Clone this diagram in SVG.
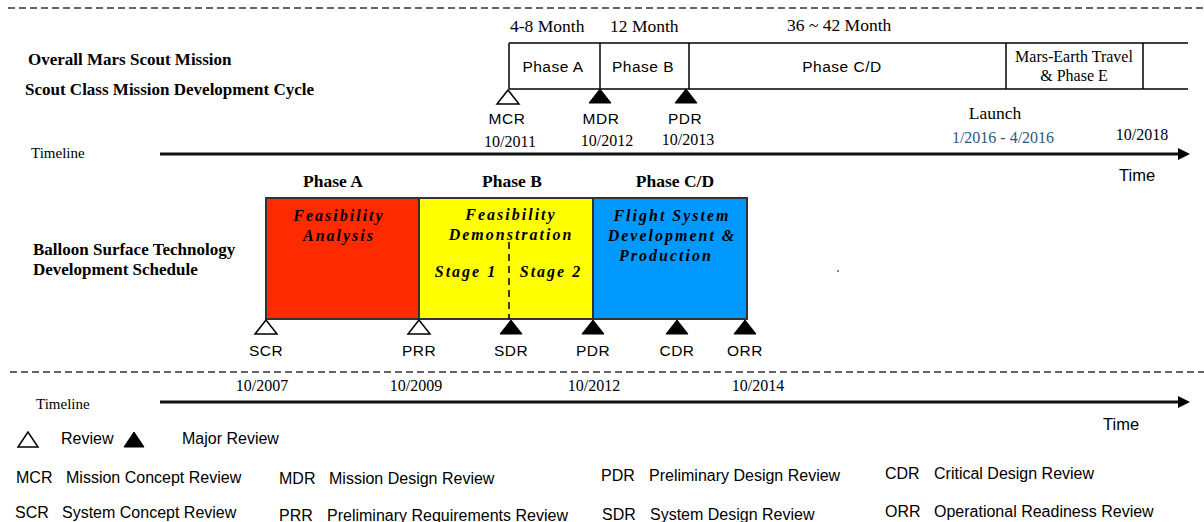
<svg xmlns="http://www.w3.org/2000/svg" width="1204" height="522" viewBox="0 0 1204 522">
<style>
.serif{font-family:"Liberation Serif","Times New Roman",serif;fill:#000}
.sans{font-family:"Liberation Sans",Arial,sans-serif;fill:#000}
.bold{font-weight:bold}
.title{font-size:17px;font-weight:bold}
.lbl{font-size:16px}
.tri{font-size:15.5px;letter-spacing:0.5px}
.date{font-size:16px}
.bi{font-family:"Liberation Serif",serif;font-weight:bold;font-style:italic;font-size:16px;letter-spacing:2px;fill:#000}
.dash{stroke:#333;stroke-width:1.5;stroke-dasharray:7,4;fill:none}
.tl{stroke:#111;stroke-width:3;fill:none}
.box{stroke:#000;stroke-width:1.5;fill:none}
.open{fill:#fff;stroke:#000;stroke-width:1.5}
.filled{fill:#000;stroke:#000;stroke-width:1}
.phase{stroke:#333;stroke-width:2}
</style>
<defs>
<marker id="arr" markerWidth="12" markerHeight="12" refX="2" refY="6" orient="auto" markerUnits="userSpaceOnUse" viewBox="0 0 12 12">
<path d="M0,0 L12,6 L0,12 z" fill="#000"/>
</marker>
</defs>
<rect width="1204" height="522" fill="#fff"/>

<g id="separators">
<line class="dash" x1="8" y1="8" x2="1204" y2="8"/>
<line class="dash" x1="10" y1="372" x2="1204" y2="372"/>
</g>

<g id="connectors">
<line class="tl" x1="160" y1="154" x2="1180" y2="154" marker-end="url(#arr)"/>
<line class="tl" x1="160" y1="402" x2="1180" y2="402" marker-end="url(#arr)"/>
</g>

<g id="top-titles">
<text class="serif title" x="28" y="65">Overall Mars Scout Mission</text>
<text class="serif title" x="25" y="95">Scout Class Mission Development Cycle</text>
<text class="serif" x="31" y="158" font-size="15">Timeline</text>
<text class="sans" x="1119" y="181" font-size="16.5">Time</text>
</g>

<g id="mission-cycle">
<line class="box" x1="509" y1="43" x2="1188" y2="43"/>
<line class="box" x1="509" y1="89" x2="1188" y2="89"/>
<line class="box" x1="509" y1="43" x2="509" y2="89"/>
<line class="box" x1="600" y1="43" x2="600" y2="89"/>
<line class="box" x1="689" y1="43" x2="689" y2="89" stroke-width="2"/>
<line class="box" x1="1006" y1="43" x2="1006" y2="89"/>
<line class="box" x1="1143" y1="43" x2="1143" y2="89"/>
<text class="serif" x="510" y="32" font-size="17.5">4-8 Month</text>
<text class="serif" x="610" y="32" font-size="17.5">12 Month</text>
<text class="serif" x="787" y="31" font-size="17.5">36 ~ 42 Month</text>
<text class="sans" x="553" y="72" font-size="15.5" letter-spacing="0.5" text-anchor="middle">Phase A</text>
<text class="sans" x="643" y="72" font-size="15.5" letter-spacing="0.5" text-anchor="middle">Phase B</text>
<text class="sans" x="842" y="72" font-size="15.5" letter-spacing="0.5" text-anchor="middle">Phase C/D</text>
<text class="serif" x="1074" y="62" font-size="16" text-anchor="middle">Mars-Earth Travel</text>
<text class="serif" x="1074" y="81" font-size="16" text-anchor="middle">&amp; Phase E</text>
</g>

<g id="mcr">
<polygon class="open" points="508,90 497,104 519,104"/>
<text class="sans tri" x="507" y="124" text-anchor="middle">MCR</text>
<text class="serif date" x="510" y="147" text-anchor="middle">10/2011</text>
</g>
<g id="mdr">
<polygon class="filled" points="600,89 589,103 611,103"/>
<text class="sans tri" x="601" y="124" text-anchor="middle">MDR</text>
<text class="serif date" x="607" y="146" text-anchor="middle">10/2012</text>
</g>
<g id="pdr-top">
<polygon class="filled" points="686,89 675,103 697,103"/>
<text class="sans tri" x="685" y="124" text-anchor="middle">PDR</text>
<text class="serif date" x="688" y="145" text-anchor="middle">10/2013</text>
</g>
<g id="launch">
<text class="serif" x="995" y="119" font-size="17.5" text-anchor="middle">Launch</text>
<text class="serif date" x="1003" y="143" text-anchor="middle" style="fill:#2d5a78">1/2016 - 4/2016</text>
<text class="serif date" x="1142" y="140" text-anchor="middle">10/2018</text>
</g>

<g id="balloon-title">
<text class="serif title" x="33" y="255">Balloon Surface Technology</text>
<text class="serif title" x="33" y="275">Development Schedule</text>
</g>

<g id="phase-a">
<rect class="phase" x="266" y="198" width="153" height="121" fill="#ff2a00"/>
<text class="serif bold" x="333" y="187" font-size="17.5" text-anchor="middle">Phase A</text>
<text class="bi" x="339" y="221" text-anchor="middle">Feasibility</text>
<text class="bi" x="339" y="241" text-anchor="middle">Analysis</text>
</g>
<g id="phase-b">
<rect class="phase" x="419" y="198" width="174" height="121" fill="#ffff00"/>
<line x1="509" y1="242" x2="509" y2="319" stroke="#000" stroke-width="1.5" stroke-dasharray="7,5"/>
<text class="serif bold" x="512" y="187" font-size="17.5" text-anchor="middle">Phase B</text>
<text class="bi" x="511" y="220" text-anchor="middle">Feasibility</text>
<text class="bi" x="511" y="240" text-anchor="middle">Demonstration</text>
<text class="bi" x="466" y="277" text-anchor="middle">Stage 1</text>
<text class="bi" x="551" y="277" text-anchor="middle">Stage 2</text>
</g>
<g id="phase-cd">
<rect class="phase" x="593" y="198" width="154" height="121" fill="#0099ff"/>
<text class="serif bold" x="675" y="187" font-size="17.5" text-anchor="middle">Phase C/D</text>
<text class="bi" x="672" y="221" text-anchor="middle">Flight System</text>
<text class="bi" x="672" y="241" text-anchor="middle">Development &amp;</text>
<text class="bi" x="666" y="261" text-anchor="middle">Production</text>
</g>
<rect x="837" y="270" width="2" height="2" fill="#888"/>

<g id="scr">
<polygon class="open" points="266,320 255,334 277,334"/>
<text class="sans tri" x="266" y="356" text-anchor="middle">SCR</text>
</g>
<g id="prr">
<polygon class="open" points="419,320 408,334 430,334"/>
<text class="sans tri" x="419" y="356" text-anchor="middle">PRR</text>
</g>
<g id="sdr">
<polygon class="filled" points="511,320 500,334 522,334"/>
<text class="sans tri" x="511" y="356" text-anchor="middle">SDR</text>
</g>
<g id="pdr-low">
<polygon class="filled" points="593,320 582,334 604,334"/>
<text class="sans tri" x="593" y="356" text-anchor="middle">PDR</text>
</g>
<g id="cdr">
<polygon class="filled" points="677,320 666,334 688,334"/>
<text class="sans tri" x="677" y="356" text-anchor="middle">CDR</text>
</g>
<g id="orr">
<polygon class="filled" points="745,320 734,334 756,334"/>
<text class="sans tri" x="745" y="356" text-anchor="middle">ORR</text>
</g>

<g id="lower-timeline">
<text class="serif" x="36" y="409" font-size="15">Timeline</text>
<text class="serif date" x="262" y="391" text-anchor="middle">10/2007</text>
<text class="serif date" x="416" y="391" text-anchor="middle">10/2009</text>
<text class="serif date" x="594" y="391" text-anchor="middle">10/2012</text>
<text class="serif date" x="758" y="391" text-anchor="middle">10/2014</text>
<text class="sans" x="1103" y="430" font-size="16.5">Time</text>
</g>

<g id="legend">
<polygon class="open" points="28,432 18,447 38,447"/>
<text class="sans lbl" x="61" y="444">Review</text>
<polygon class="filled" points="134,432 124,447 144,447"/>
<text class="sans lbl" x="182" y="444">Major Review</text>
<text class="sans lbl" x="16" y="483">MCR</text>
<text class="sans lbl" x="66" y="483">Mission Concept Review</text>
<text class="sans lbl" x="279" y="484">MDR</text>
<text class="sans lbl" x="329" y="484">Mission Design Review</text>
<text class="sans lbl" x="601" y="481">PDR</text>
<text class="sans lbl" x="649" y="481">Preliminary Design Review</text>
<text class="sans lbl" x="885" y="479">CDR</text>
<text class="sans lbl" x="934" y="479">Critical Design Review</text>
<text class="sans lbl" x="15" y="518">SCR</text>
<text class="sans lbl" x="62" y="518">System Concept Review</text>
<text class="sans lbl" x="279" y="521">PRR</text>
<text class="sans lbl" x="327" y="521">Preliminary Requirements Review</text>
<text class="sans lbl" x="602" y="520">SDR</text>
<text class="sans lbl" x="650" y="520">System Design Review</text>
<text class="sans lbl" x="885" y="517">ORR</text>
<text class="sans lbl" x="934" y="517">Operational Readiness Review</text>
</g>
</svg>
